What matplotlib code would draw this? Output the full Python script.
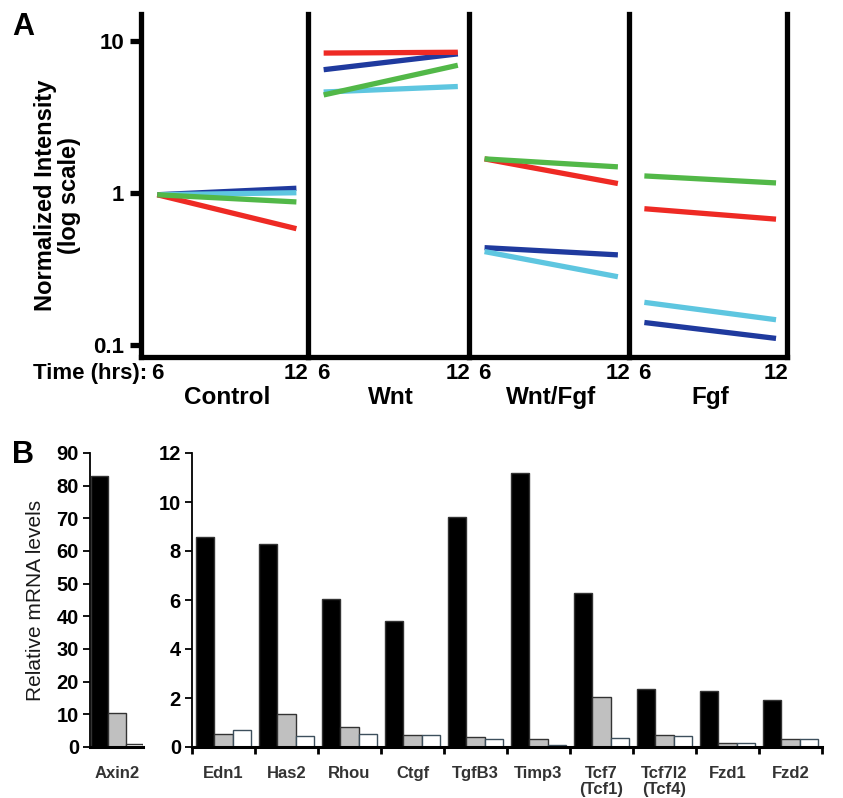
import numpy as np
import matplotlib.pyplot as plt
from matplotlib.ticker import FixedLocator, NullLocator

plt.rcParams['font.family'] = ['Liberation Sans', 'DejaVu Sans']

# ---- panel A data: normalized intensity at 6 h and 12 h ----
conditions = ['Control', 'Wnt', 'Wnt/Fgf', 'Fgf']
times = [6, 12]
red_vals = [[0.97, 0.58], [8.3, 8.4], [1.67, 1.15], [0.785, 0.67]]
blue_vals = [[0.97, 1.07], [6.45, 8.2], [0.435, 0.39], [0.14, 0.11]]
green_vals = [[0.97, 0.87], [4.4, 6.9], [1.67, 1.48], [1.29, 1.16]]
cyan_vals = [[0.97, 1.0], [4.6, 5.0], [0.41, 0.28], [0.19, 0.146]]

# ---- panel B data: relative mRNA levels ----
axin_vals = [83, 10.5, 1.0]
genes = ['Edn1', 'Has2', 'Rhou', 'Ctgf', 'TgfB3', 'Timp3',
         'Tcf7\n(Tcf1)', 'Tcf7l2\n(Tcf4)', 'Fzd1', 'Fzd2']
black_vals = [8.57, 8.29, 6.04, 5.14, 9.4, 11.2, 6.29, 2.37, 2.29, 1.92]
gray_vals = [0.55, 1.33, 0.8, 0.48, 0.42, 0.32, 2.04, 0.48, 0.15, 0.32]
white_vals = [0.68, 0.45, 0.53, 0.48, 0.32, 0.1, 0.37, 0.45, 0.15, 0.32]

W, H = 843, 798
fig = plt.figure(figsize=(W / 100, H / 100), dpi=100)

def px(x0, y0, x1, y1):
    return [x0 / W, 1 - y1 / H, (x1 - x0) / W, (y1 - y0) / H]

# ---------------- panel A ----------------
bounds = [141, 308, 469, 629, 787]
series = [(blue_vals, '#1f3a9e'), (cyan_vals, '#5ec6e0'),
          (red_vals, '#ee2a24'), (green_vals, '#52b848')]
sw = 3.8
for i, cond in enumerate(conditions):
    ax = fig.add_axes(px(bounds[i], 14, bounds[i + 1], 357))
    for vals, col in series:
        ax.plot(times, vals[i], color=col, lw=3.8, solid_capstyle='butt')
    ax.set_yscale('log')
    ax.set_ylim(0.083, 15)
    ax.set_xlim(5.3, 12.5)
    ax.spines['top'].set_visible(False)
    ax.spines['right'].set_visible(i == 3)
    for s in ['left', 'bottom', 'right']:
        ax.spines[s].set_linewidth(sw)
    ax.set_xticks(times)
    ax.set_xticklabels(['6', '12'], fontsize=16, fontweight='bold')
    ax.tick_params(axis='x', length=0, pad=4)
    ax.yaxis.set_minor_locator(NullLocator())
    if i == 0:
        ax.set_yticks([0.1, 1, 10])
        ax.set_yticklabels(['0.1', '1', '10'], fontsize=16, fontweight='bold')
        ax.tick_params(axis='y', length=8, width=sw, pad=4)
        ax.set_ylabel('Normalized Intensity\n(log scale)', fontsize=17,
                      fontweight='bold', linespacing=1.05)
        ax.yaxis.set_label_coords(-0.36, 0.47)
    else:
        ax.set_yticks([])
    ax.text(9, -0.085, cond, transform=ax.get_xaxis_transform(), ha='center',
            va='top', fontsize=17.5, fontweight='bold')

fig.text(147 / W, 1 - 373 / H, 'Time (hrs):', ha='right', va='center',
         fontsize=16, fontweight='bold')
fig.text(12 / W, 1 - 27 / H, 'A', ha='left', va='center', fontsize=22,
         fontweight='bold')
fig.text(12 / W, 1 - 455 / H, 'B', ha='left', va='center', fontsize=22,
         fontweight='bold')

# ---------------- panel B ----------------
bw = 0.29
edge = '#333333'

def style_bar_axis(ax):
    ax.spines['top'].set_visible(False)
    ax.spines['right'].set_visible(False)
    ax.spines['left'].set_linewidth(1.3)
    ax.spines['bottom'].set_linewidth(2.2)
    ax.tick_params(axis='y', length=5, width=1.3, labelsize=14.5, pad=3)
    for t in ax.get_yticklabels():
        t.set_fontweight('bold')

axl = fig.add_axes(px(90, 453, 143, 747))
axl.bar([-0.31, 0, 0.31], axin_vals, width=0.31,
        color=['black', '#c0c0c0', 'white'], edgecolor=edge, lw=1)
axl.set_xlim(-0.49, 0.47)
axl.set_ylim(0, 90)
axl.set_yticks(range(0, 91, 10))
axl.set_xticks([0])
axl.set_xticklabels(['Axin2'], fontsize=12, fontweight='bold', color='#333')
axl.tick_params(axis='x', length=0, pad=14)
style_bar_axis(axl)
axl.set_ylabel('Relative mRNA levels', fontsize=15, color='#1a1a1a',
               labelpad=8)

axr = fig.add_axes(px(192, 453, 822, 747))
x = np.arange(len(genes)) + 0.5
axr.bar(x - bw, black_vals, width=bw, color='black', edgecolor=edge, lw=1)
axr.bar(x, gray_vals, width=bw, color='#c0c0c0', edgecolor=edge, lw=1)
axr.bar(x + bw, white_vals, width=bw, color='white', edgecolor='#3d4f5c', lw=1)
axr.set_xlim(0, len(genes))
axr.set_ylim(0, 12)
axr.set_yticks(range(0, 13, 2))
axr.xaxis.set_major_locator(FixedLocator(np.arange(0, len(genes) + 1)))
axr.xaxis.set_minor_locator(FixedLocator(x))
axr.set_xticklabels([])
axr.set_xticklabels(genes, minor=True, fontsize=12, fontweight='bold',
                    color='#333', va='top', linespacing=1.05)
axr.tick_params(axis='x', which='major', length=5, width=2, direction='out')
axr.tick_params(axis='x', which='minor', length=0, pad=14)
style_bar_axis(axr)

fig.savefig('out.png', dpi=100)
